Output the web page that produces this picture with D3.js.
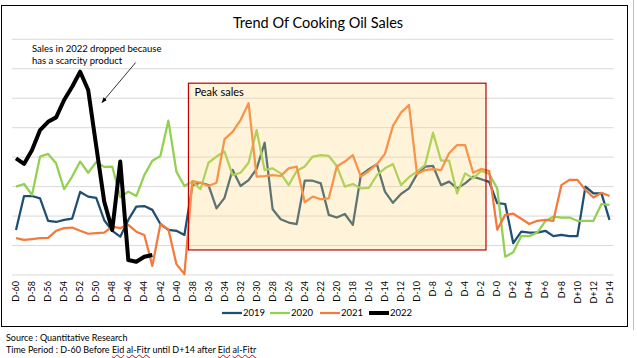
<!DOCTYPE html>
<html><head><meta charset="utf-8">
<script src="https://cdn.jsdelivr.net/npm/d3@7"></script>
<style>
html,body{margin:0;padding:0;background:#fff;}
#wrap{position:relative;width:637px;height:358px;overflow:hidden;background:#fff;}
svg{position:absolute;left:0;top:0;}
.foot{position:absolute;left:6px;font-family:Lato,"Liberation Sans",sans-serif;font-size:9px;color:#000;white-space:nowrap;line-height:11px;}
.sp{text-decoration:underline wavy #e00000;text-decoration-thickness:0.8px;text-underline-offset:0.5px;}
</style></head><body>
<div id="wrap"><svg id="chart" width="637" height="358"></svg>
<div class="foot" style="top:332px">Source : Quantitative Research</div>
<div class="foot" style="top:344px">Time Period : D-60 Before <span class="sp">Eid</span> <span class="sp">al-Fitr</span> until D+14 after <span class="sp">Eid</span> <span class="sp">al-Fitr</span></div>
</div>
<script>
const categories = ["D-60","D-59","D-58","D-57","D-56","D-55","D-54","D-53","D-52","D-51","D-50","D-49","D-48","D-47","D-46","D-45","D-44","D-43","D-42","D-41","D-40","D-39","D-38","D-37","D-36","D-35","D-34","D-33","D-32","D-31","D-30","D-29","D-28","D-27","D-26","D-25","D-24","D-23","D-22","D-21","D-20","D-19","D-18","D-17","D-16","D-15","D-14","D-13","D-12","D-11","D-10","D-9","D-8","D-7","D-6","D-5","D-4","D-3","D-2","D-1","D-0","D+1","D+2","D+3","D+4","D+5","D+6","D+7","D+8","D+9","D+10","D+11","D+12","D+13","D+14"];
const tickLabels = ["D-60","D-58","D-56","D-54","D-52","D-50","D-48","D-46","D-44","D-42","D-40","D-38","D-36","D-34","D-32","D-30","D-28","D-26","D-24","D-22","D-20","D-18","D-16","D-14","D-12","D-10","D-8","D-6","D-4","D-2","D-0","D+2","D+4","D+6","D+8","D+10","D+12","D+14"];
const s2019 = [1.53,2.68,2.68,2.60,1.84,1.80,1.87,1.91,2.82,2.66,2.62,1.86,1.50,1.30,1.87,2.32,2.34,2.21,1.73,1.53,1.50,1.36,3.05,3.13,3.05,2.26,2.62,3.57,3.02,3.22,3.60,4.49,2.23,1.89,1.78,1.73,3.20,3.20,3.11,2.04,1.95,2.07,1.70,3.39,3.59,3.76,2.83,2.45,2.75,2.94,3.42,3.68,3.70,3.05,3.17,2.94,3.11,3.34,3.25,3.16,2.44,2.41,1.08,1.47,1.44,1.44,1.50,1.32,1.36,1.32,1.32,3.00,2.77,2.77,1.87];
const s2020 = [3.00,3.09,2.72,4.02,4.11,3.79,2.91,3.34,3.85,3.47,3.83,3.67,3.68,2.64,2.83,2.68,3.39,3.88,4.04,5.24,3.51,3.02,3.17,2.91,3.81,4.02,4.19,3.39,3.47,3.81,4.92,3.56,3.62,3.45,3.05,3.53,3.68,4.02,4.07,4.04,3.70,3.00,3.09,2.94,2.96,3.39,3.62,3.77,3.05,3.32,3.51,3.73,4.83,3.88,3.88,2.77,3.45,3.28,3.54,3.43,2.94,0.62,0.77,1.32,1.32,1.44,1.83,1.98,1.95,1.95,1.84,1.84,1.84,2.41,2.38];
const s2021 = [1.25,1.19,1.22,1.25,1.26,1.50,1.59,1.61,1.50,1.40,1.42,1.44,1.64,1.59,1.70,1.47,1.36,0.31,1.72,1.55,0.37,0.03,3.19,3.13,3.02,3.13,4.61,4.86,5.26,5.83,3.34,3.36,3.39,3.36,3.62,3.68,2.47,2.66,2.57,2.60,3.68,3.85,4.07,3.34,3.53,3.76,4.11,5.06,5.51,5.77,3.43,3.56,3.59,3.56,4.13,4.41,4.41,3.47,3.60,3.53,1.54,2.04,2.08,1.91,1.73,1.84,1.87,1.84,3.05,3.23,3.23,2.89,2.63,2.79,2.68];
const s2022 = [3.96,3.77,4.24,4.92,5.20,5.35,5.94,6.39,6.90,6.28,4.38,2.49,1.53,3.85,0.51,0.45,0.62,0.68];
const seriesNames = ["2019","2020","2021","2022"];
const seriesColors = ["#1F4E70","#92D050","#F47A3C","#000000"];

const svg = d3.select("#chart");
const font = "Lato, 'Liberation Sans', sans-serif";
svg.append("rect").attr("width",637).attr("height",358).attr("fill","#fff");
// frame
svg.append("rect").attr("x",1.5).attr("y",5.5).attr("width",626).attr("height",321).attr("fill","none").attr("stroke","#000").attr("stroke-width",1);
svg.append("line").attr("x1",633.5).attr("x2",633.5).attr("y1",0).attr("y2",330).attr("stroke","#bdbdbd");

svg.append("text").attr("x",318).attr("y",28).attr("text-anchor","middle")
  .attr("font-family",font).attr("font-size",14.5).attr("fill","#000").text("Trend Of Cooking Oil Sales");

const x = d3.scaleBand().domain(categories).range([12,613.5]).padding(0);
const cx = d => x(d) + x.bandwidth()/2;
const y = d3.scaleLinear().domain([0,8]).range([275,39.3]);

// gridlines
svg.append("g").selectAll("line").data(d3.range(0,9)).join("line")
  .attr("x1",12).attr("x2",613.5).attr("y1",d=>y(d)).attr("y2",d=>y(d))
  .attr("stroke","#D9D9D9").attr("stroke-width",1);

// axis
const ax = svg.append("g").attr("transform",`translate(0,${y(0)})`)
  .call(d3.axisBottom(x).tickValues(tickLabels).tickSize(0).tickPadding(0));
ax.select(".domain").remove();
ax.selectAll("text").attr("font-family",font).attr("font-size",9).attr("fill","#000")
  .attr("transform","rotate(-90)").attr("text-anchor","end").attr("x",-6).attr("y",0).attr("dy","0.35em");

const line = d3.line().defined(d=>d[1]!=null).x(d=>cx(d[0])).y(d=>y(d[1]));
const data = [s2019,s2020,s2021];
data.forEach((s,k)=>{
  svg.append("path").datum(s.map((v,i)=>[categories[i],v]))
    .attr("d",line).attr("fill","none").attr("stroke",seriesColors[k])
    .attr("stroke-width",2.25).attr("stroke-linejoin","round");
});

// peak sales box
const bx0 = cx(categories[21]) + x.step()*0.5, bx1 = cx(categories[58]) + x.step()*0.6;
const by0 = y(6.51), by1 = y(0.85);
svg.append("rect").attr("x",bx0).attr("y",by0).attr("width",bx1-bx0).attr("height",by1-by0)
  .attr("fill","rgba(255,214,120,0.28)").attr("stroke","#C00000").attr("stroke-width",1.2);
svg.append("text").attr("x",bx0+6).attr("y",by0+13).attr("font-family",font).attr("font-size",11).attr("fill","#000").text("Peak sales");

svg.append("path").datum(s2022.map((v,i)=>[categories[i],v]))
  .attr("d",line).attr("fill","none").attr("stroke","#000")
  .attr("stroke-width",4).attr("stroke-linejoin","round");

// annotation
const ann = svg.append("text").attr("font-family",font).attr("font-size",9.5).attr("fill","#000");
ann.append("tspan").attr("x",32).attr("y",52).text("Sales in 2022 dropped because");
ann.append("tspan").attr("x",32).attr("y",64).text("has a scarcity product");
svg.append("defs").append("marker").attr("id","ah").attr("viewBox","0 0 10 10").attr("refX",9).attr("refY",5)
  .attr("markerWidth",7).attr("markerHeight",7).attr("orient","auto")
  .append("path").attr("d","M0,1 L10,5 L0,9 Z").attr("fill","#000");
svg.append("line").attr("x1",135.7).attr("y1",62.5).attr("x2",102).attr("y2",102.5)
  .attr("stroke","#000").attr("stroke-width",0.8).attr("marker-end","url(#ah)");

// legend
const lg = svg.append("g").attr("transform","translate(222,313)");
const lx = [0,48,98,147];
seriesNames.forEach((n,k)=>{
  const g = lg.append("g").attr("transform",`translate(${lx[k]},0)`);
  g.append("line").attr("x1",0).attr("x2",20).attr("y1",0).attr("y2",0)
    .attr("stroke",seriesColors[k]).attr("stroke-width",k===3?4:2.25);
  g.append("text").attr("x",21).attr("y",0).attr("dy","0.35em").attr("font-family",font).attr("font-size",9.5).text(n);
});
</script>
</body></html>
